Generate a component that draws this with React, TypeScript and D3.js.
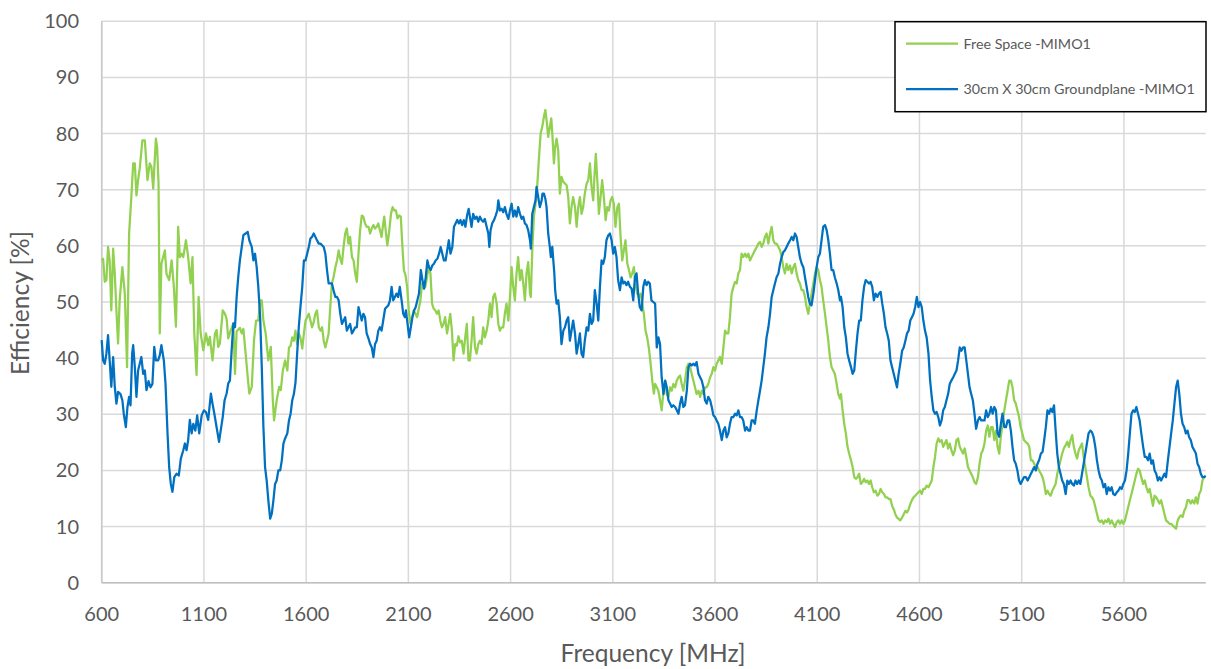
import React from "react";
import * as d3 from "d3";

const xTicks = [600, 1100, 1600, 2100, 2600, 3100, 3600, 4100, 4600, 5100, 5600];
const yTicks = [0, 10, 20, 30, 40, 50, 60, 70, 80, 90, 100];
const seriesNames = ["Free Space -MIMO1", "30cm X 30cm Groundplane -MIMO1"];
const xTitle = "Frequency [MHz]";
const yTitle = "Efficiency [%]";

const freeSpace: [number, number][] = [
  [600,57.4],[607,57.7],[615,53.6],[623,53.9],[631,59.8],[639,57.4],[647,48.5],[656,59.5],[664,55.0],[672,48.5],[680,42.6],[688,50.3],[701,56.2],[713,51.5],[724,38.4],[734,62.2],[745,68.7],[754,74.7],[762,74.7],[770,69.0],[778,71.7],[786,73.8],[799,78.8],[811,78.8],[824,71.7],[835,74.7],[843,74.1],[852,70.2],[865,79.1],[871,77.6],[878,71.1],[884,44.4],[892,56.8],[909,59.2],[917,55.0],[930,53.9],[942,57.4],[953,52.7],[963,45.6],[974,63.4],[982,58.0],[991,58.6],[999,58.0],[1012,61.0],[1023,58.0],[1035,53.3],[1044,58.0],[1053,44.4],[1064,37.0],[1074,50.9],[1084,44.4],[1097,41.4],[1110,44.4],[1121,42.3],[1129,43.8],[1142,39.6],[1154,44.4],[1162,45.0],[1170,42.0],[1178,42.6],[1192,48.5],[1203,47.9],[1211,47.0],[1219,43.5],[1231,45.0],[1244,46.2],[1252,37.2],[1260,44.8],[1276,45.4],[1285,44.4],[1293,45.2],[1304,40.8],[1314,36.7],[1322,33.7],[1334,34.9],[1345,43.2],[1355,46.7],[1366,46.7],[1375,50.3],[1383,50.3],[1391,46.7],[1402,44.4],[1415,39.6],[1427,42.0],[1437,32.5],[1443,28.9],[1456,32.5],[1468,34.9],[1476,34.3],[1486,37.8],[1497,39.6],
  [1508,37.8],[1516,41.9],[1524,42.2],[1532,43.7],[1540,43.1],[1548,44.9],[1556,42.5],[1564,44.4],[1572,43.7],[1581,41.7],[1589,44.4],[1597,46.7],[1605,47.3],[1613,47.9],[1621,46.7],[1629,45.5],[1637,46.4],[1645,47.9],[1653,48.5],[1662,45.5],[1670,44.9],[1678,45.5],[1686,43.1],[1694,41.9],[1702,43.1],[1710,44.4],[1718,49.1],[1726,53.3],[1734,54.4],[1743,56.2],[1751,57.4],[1759,59.2],[1767,57.7],[1775,56.8],[1783,59.8],[1791,62.2],[1799,63.1],[1807,60.4],[1815,61.6],[1824,58.0],[1832,57.4],[1840,55.1],[1848,53.6],[1856,58.6],[1864,62.8],[1872,65.4],[1880,65.2],[1888,64.0],[1896,63.4],[1905,63.4],[1913,62.2],[1921,63.1],[1929,63.7],[1937,63.1],[1945,63.4],[1953,64.0],[1961,62.8],[1969,61.6],[1977,64.0],[1982,65.2],[1989,62.8],[1997,60.1],[2005,62.2],[2015,65.7],[2023,66.9],[2031,66.3],[2039,66.3],[2047,64.9],[2055,65.4],[2063,65.2],[2070,60.4],[2078,55.7],[2086,54.8],[2094,52.7],[2102,48.5],[2110,46.1],[2118,47.3],[2126,48.5],[2135,47.9],[2143,47.3],[2151,48.8],[2159,50.3],[2167,53.3],[2175,52.4],[2183,52.7],[2191,54.4],[2199,56.2],[2208,55.1],[2216,49.7],[2224,48.8],[2232,48.5],[2240,47.9],[2248,48.5],[2256,46.7],[2264,45.5],[2272,46.1],[2280,47.3],[2289,44.4],[2297,46.1],[2305,47.9],[2313,44.9],[2321,39.6],[2329,42.5],[2337,42.2],[2345,43.9],[2353,42.8],[2361,43.1],[2370,40.8],[2378,43.7],[2386,46.1],[2394,39.6],
  [2401,39.6],[2409,43.1],[2417,47.3],[2426,41.9],[2434,40.8],[2442,42.5],[2450,43.1],[2458,42.5],[2466,45.5],[2474,43.7],[2483,44.9],[2491,46.7],[2499,49.7],[2507,47.3],[2515,50.9],[2523,51.5],[2532,49.7],[2540,46.1],[2548,44.9],[2556,45.5],[2564,45.5],[2572,47.9],[2580,49.7],[2589,46.7],[2597,50.9],[2605,56.2],[2613,52.7],[2621,50.3],[2629,55.1],[2637,58.0],[2646,53.9],[2654,55.7],[2662,53.3],[2670,50.3],[2678,55.1],[2686,57.1],[2695,51.5],[2699,50.9],[2706,59.2],[2714,65.2],[2722,67.5],[2730,70.5],[2739,75.8],[2747,80.0],[2755,81.2],[2763,83.0],[2770,84.2],[2776,82.4],[2784,79.4],[2792,81.2],[2799,82.7],[2805,79.4],[2812,74.7],[2818,77.6],[2825,79.1],[2833,77.0],[2841,69.3],[2849,72.3],[2858,71.4],[2866,71.1],[2874,70.8],[2882,68.7],[2890,64.0],[2898,66.9],[2906,68.7],[2915,66.9],[2923,63.4],[2931,66.9],[2939,68.7],[2947,65.7],[2955,66.9],[2963,69.3],[2972,71.1],[2980,71.7],[2988,74.7],[2996,70.5],[3004,68.1],[3012,73.5],[3017,76.4],[3025,71.1],[3032,65.7],[3040,68.7],[3048,71.7],[3056,68.7],[3065,64.6],[3073,66.9],[3081,66.3],[3089,68.1],[3097,68.7],[3105,67.5],[3113,63.4],[3122,66.9],[3130,67.5],[3138,61.6],[3146,57.4],[3154,59.2],[3162,61.0],[3171,56.8],[3179,55.7],[3187,54.4],[3195,55.1],[3203,56.2],[3211,53.3],[3219,51.5],[3228,50.9],[3236,51.5],[3244,49.7],[3252,47.9],[3260,44.9],[3268,43.7],[3276,41.9],[3285,39.0],[3293,36.0],[3301,33.7],
  [3307,35.4],[3315,34.8],[3323,34.2],[3331,32.5],[3339,30.7],[3348,34.2],[3356,36.0],[3364,33.6],[3372,33.1],[3380,34.8],[3388,34.2],[3396,35.4],[3405,34.8],[3413,36.0],[3421,36.6],[3429,36.9],[3437,35.4],[3445,34.2],[3453,36.0],[3462,38.4],[3470,39.0],[3478,38.4],[3486,37.2],[3494,36.0],[3502,34.8],[3510,33.6],[3519,34.2],[3527,33.1],[3535,34.2],[3543,33.6],[3551,34.8],[3559,34.8],[3567,35.4],[3576,36.6],[3584,37.2],[3592,38.4],[3600,37.8],[3608,39.0],[3616,39.6],[3624,40.2],[3633,39.0],[3641,41.9],[3649,44.9],[3657,44.4],[3665,44.4],[3673,47.3],[3681,51.5],[3690,52.7],[3698,53.6],[3706,53.3],[3714,55.1],[3722,55.7],[3730,58.6],[3738,58.0],[3747,58.6],[3755,58.0],[3763,58.6],[3771,57.4],[3779,58.0],[3787,58.6],[3795,59.2],[3804,59.8],[3812,60.4],[3820,60.7],[3828,59.8],[3836,60.4],[3844,61.6],[3852,62.2],[3861,60.4],[3869,62.2],[3877,63.4],[3885,61.0],[3893,60.4],[3901,60.4],[3910,59.8],[3918,59.2],[3926,58.0],[3934,56.2],[3942,55.1],[3950,56.8],[3958,55.7],[3967,56.5],[3975,55.1],[3983,56.2],[3991,56.8],[3999,55.1],[4007,53.9],[4015,53.3],[4024,52.1],[4032,52.1],[4040,50.9],[4048,49.1],[4056,47.9],[4064,49.7],[4072,51.5],[4081,53.3],[4089,55.1],[4097,56.2],[4105,55.7],[4113,53.9],[4121,52.7],[4129,50.3],[4138,47.9],[4146,45.5],[4154,43.1],[4162,40.2],[4170,38.4],[4178,37.8],[4186,37.2],[4195,35.4],[4203,33.6],[4211,32.8],
  [4216,33.6],[4224,30.7],[4232,28.3],[4240,26.6],[4248,24.2],[4256,23.0],[4265,21.8],[4273,20.6],[4281,18.8],[4289,18.5],[4297,18.8],[4305,19.4],[4313,17.6],[4321,17.9],[4329,18.5],[4337,17.9],[4345,18.2],[4353,17.6],[4361,18.2],[4369,17.0],[4377,16.1],[4385,16.4],[4394,15.5],[4402,15.8],[4410,16.7],[4418,16.1],[4426,15.8],[4434,15.2],[4442,15.2],[4450,14.9],[4458,14.9],[4466,13.7],[4474,13.1],[4482,12.2],[4490,11.6],[4498,11.4],[4506,11.1],[4515,11.6],[4523,12.2],[4531,12.8],[4539,12.5],[4547,13.1],[4555,14.0],[4563,14.7],[4571,15.2],[4579,15.5],[4587,15.8],[4595,16.1],[4603,16.4],[4611,15.8],[4619,16.7],[4627,16.7],[4635,17.3],[4644,17.0],[4652,17.6],[4660,18.2],[4668,20.6],[4676,22.4],[4684,24.8],[4692,25.7],[4700,25.1],[4708,25.4],[4716,24.2],[4724,24.8],[4732,25.4],[4740,23.9],[4748,24.8],[4756,23.6],[4765,22.7],[4773,23.6],[4781,25.4],[4789,25.7],[4797,24.2],[4805,23.6],[4813,23.0],[4821,23.9],[4829,22.4],[4837,20.6],[4845,20.0],[4853,19.4],[4861,18.8],[4869,17.9],[4877,17.6],[4886,18.8],[4894,21.2],[4902,23.0],[4910,23.6],[4918,24.8],[4926,27.1],[4934,28.0],[4942,26.0],[4950,27.7],[4958,27.7],[4966,25.4],[4974,27.1],[4982,24.2],[4990,23.0],[4998,26.0],[5006,28.3],[5015,30.7],[5023,32.5],[5031,34.2],[5039,36.0],[5047,36.0],[5055,34.8],[5063,32.5],[5071,31.9],[5079,30.7],[5087,29.5],[5095,27.7],[5103,26.6],[5111,25.4],
  [5121,25.0],[5129,24.8],[5137,24.2],[5145,21.8],[5153,21.8],[5161,21.2],[5169,20.6],[5177,20.6],[5185,20.0],[5194,19.4],[5202,18.8],[5210,17.6],[5218,15.8],[5226,16.4],[5234,15.8],[5242,15.5],[5250,16.4],[5258,17.0],[5266,17.6],[5274,19.4],[5282,20.6],[5290,21.8],[5298,23.0],[5306,23.9],[5315,24.5],[5323,25.1],[5331,24.2],[5339,25.4],[5347,26.3],[5355,24.2],[5363,23.0],[5371,22.1],[5379,23.6],[5387,24.2],[5395,24.8],[5403,22.4],[5411,20.6],[5419,18.8],[5427,17.0],[5436,15.5],[5444,15.2],[5452,14.7],[5460,13.5],[5468,12.3],[5476,11.1],[5484,10.8],[5492,11.1],[5500,10.5],[5508,11.1],[5516,10.8],[5524,11.4],[5532,10.5],[5540,11.1],[5548,10.5],[5556,9.9],[5565,10.8],[5573,11.1],[5581,10.5],[5589,11.1],[5597,10.5],[5605,11.1],[5613,12.3],[5621,13.5],[5629,14.7],[5637,15.8],[5645,17.0],[5653,18.2],[5661,19.4],[5669,20.3],[5677,20.0],[5685,18.8],[5694,17.6],[5702,18.2],[5710,17.0],[5718,16.1],[5726,16.7],[5734,15.2],[5742,13.7],[5750,15.5],[5758,15.2],[5766,14.7],[5774,14.1],[5782,14.7],[5790,13.5],[5798,12.3],[5806,11.1],[5815,10.8],[5823,10.5],[5831,10.5],[5839,10.2],[5847,9.9],[5855,9.6],[5863,11.1],[5871,11.7],[5879,12.0],[5887,11.7],[5895,12.8],[5903,13.4],[5911,14.7],[5919,14.7],[5927,14.1],[5935,14.7],[5944,14.1],[5952,15.2],[5960,14.1],[5968,15.8],[5976,16.4],[5984,18.2],[5992,18.8],[6000,19.0]
];

const groundplane: [number, number][] = [
  [600,43.2],[607,39.6],[615,39.0],[623,40.8],[631,44.1],[639,39.6],[647,34.9],[656,40.2],[664,34.9],[672,31.9],[680,34.0],[692,33.6],[701,32.5],[708,30.1],[718,27.7],[726,31.3],[734,33.1],[741,31.6],[749,40.8],[754,42.3],[762,38.4],[770,33.1],[778,37.8],[786,39.0],[794,40.2],[803,37.2],[811,37.8],[819,34.3],[829,35.9],[839,34.8],[848,35.4],[857,42.0],[865,39.6],[876,39.6],[884,40.5],[892,42.3],[904,39.6],[912,35.5],[922,26.6],[930,20.6],[938,17.6],[946,16.2],[955,18.8],[966,19.4],[977,19.1],[987,22.1],[999,23.6],[1007,24.8],[1015,23.6],[1023,25.4],[1031,29.0],[1040,26.6],[1048,28.3],[1058,27.1],[1067,29.8],[1077,26.6],[1089,29.8],[1100,30.7],[1110,30.4],[1121,29.0],[1134,33.7],[1142,31.9],[1151,30.1],[1162,27.7],[1174,25.1],[1182,27.1],[1192,29.5],[1201,32.5],[1211,33.7],[1219,35.5],[1227,36.0],[1236,41.6],[1244,46.2],[1252,45.5],[1260,50.9],[1268,54.5],[1276,57.4],[1285,59.8],[1293,61.9],[1304,62.2],[1314,62.5],[1322,61.0],[1334,59.8],[1342,57.4],[1350,58.6],[1358,56.2],[1366,52.7],[1375,47.3],[1383,38.4],[1391,27.7],[1399,20.6],[1407,18.2],[1415,14.7],[1424,11.4],[1432,12.3],[1440,14.7],[1448,17.6],[1456,18.2],[1464,20.0],[1473,20.0],[1481,21.8],[1489,24.8],[1497,25.7],
  [1508,26.6],[1516,28.9],[1524,30.1],[1532,32.5],[1540,33.6],[1548,35.7],[1556,40.8],[1564,45.5],[1572,49.1],[1581,52.7],[1589,57.4],[1597,57.4],[1605,58.6],[1613,59.8],[1621,61.3],[1629,61.6],[1637,62.2],[1645,61.6],[1653,61.0],[1662,60.4],[1670,60.4],[1678,60.1],[1686,59.8],[1694,58.6],[1702,55.7],[1710,53.3],[1718,53.3],[1726,53.3],[1734,52.1],[1743,50.9],[1751,50.9],[1759,50.3],[1767,47.9],[1775,46.1],[1783,46.7],[1791,47.3],[1799,44.9],[1807,45.5],[1815,46.1],[1824,44.4],[1832,44.9],[1840,45.5],[1848,45.5],[1856,49.1],[1864,47.9],[1872,46.7],[1880,47.9],[1888,47.3],[1896,44.4],[1905,43.5],[1913,42.5],[1921,41.9],[1929,40.2],[1937,42.5],[1945,43.1],[1953,44.9],[1961,45.5],[1969,44.9],[1977,46.7],[1986,48.8],[1994,49.1],[2002,49.4],[2010,50.3],[2018,52.7],[2026,50.3],[2034,50.9],[2042,51.5],[2050,50.9],[2058,52.7],[2067,50.3],[2075,47.9],[2083,47.3],[2088,48.5],[2096,46.1],[2104,43.7],[2112,45.5],[2120,47.3],[2128,48.5],[2136,49.1],[2144,50.3],[2152,51.5],[2161,55.7],[2169,53.9],[2177,52.4],[2185,54.4],[2193,57.4],[2201,56.2],[2209,55.7],[2217,56.5],[2225,56.8],[2233,57.4],[2242,57.7],[2250,58.6],[2258,59.8],[2266,58.6],[2274,57.4],[2282,57.4],[2290,59.2],[2298,61.0],[2306,58.6],[2315,59.8],[2323,63.4],[2331,64.0],[2339,64.6],[2347,64.0],[2355,64.6],[2363,63.7],[2371,64.6],[2379,63.4],[2387,65.4],[2395,66.6],
  [2401,65.2],[2409,63.4],[2417,65.7],[2426,64.8],[2434,65.2],[2442,64.3],[2450,65.2],[2458,64.6],[2466,64.3],[2474,64.8],[2483,63.4],[2491,62.2],[2496,59.8],[2502,62.8],[2510,64.0],[2519,64.6],[2527,65.4],[2535,66.3],[2540,68.1],[2548,66.3],[2556,66.6],[2564,66.0],[2572,66.9],[2580,65.7],[2589,64.8],[2597,66.3],[2605,67.5],[2613,65.2],[2621,66.3],[2629,65.2],[2637,66.9],[2646,65.7],[2654,64.8],[2662,65.2],[2670,64.0],[2678,63.7],[2686,62.8],[2695,61.0],[2699,59.5],[2706,65.7],[2714,66.9],[2722,68.1],[2727,70.5],[2735,68.7],[2743,66.9],[2752,68.1],[2756,69.3],[2763,69.3],[2770,68.4],[2776,66.9],[2784,62.2],[2792,59.8],[2797,58.0],[2804,59.8],[2809,57.4],[2814,55.1],[2818,52.1],[2825,49.7],[2833,50.3],[2841,47.3],[2849,42.5],[2858,44.9],[2866,45.5],[2874,46.7],[2882,47.3],[2890,43.1],[2898,44.9],[2906,46.7],[2915,44.4],[2923,40.8],[2931,42.5],[2939,44.4],[2947,40.8],[2955,40.2],[2963,43.1],[2972,45.5],[2980,44.9],[2988,47.9],[2996,46.1],[3004,46.7],[3012,52.1],[3021,49.7],[3029,46.7],[3037,52.7],[3045,57.4],[3053,56.8],[3061,58.0],[3069,61.0],[3078,61.9],[3086,62.2],[3094,61.0],[3102,58.6],[3110,59.8],[3118,58.0],[3126,53.9],[3135,52.1],[3143,54.4],[3151,53.3],[3159,53.6],[3167,53.0],[3175,53.6],[3184,52.7],[3192,52.4],[3200,50.3],[3208,54.4],[3216,55.1],[3224,51.5],[3232,49.1],[3241,48.5],[3249,52.7],[3257,53.9],[3265,53.0],[3273,53.6],[3281,53.3],[3289,50.3],[3298,50.0],
  [3307,49.7],[3315,41.9],[3323,43.7],[3331,42.5],[3339,36.6],[3348,33.6],[3356,36.0],[3364,34.8],[3372,32.5],[3380,31.9],[3388,31.3],[3396,31.6],[3405,31.3],[3413,30.7],[3421,30.1],[3429,31.9],[3437,33.1],[3445,31.3],[3453,31.6],[3462,34.2],[3470,38.4],[3478,39.0],[3486,38.7],[3494,39.0],[3502,38.7],[3510,39.3],[3519,37.2],[3527,36.6],[3535,36.0],[3543,34.8],[3551,32.5],[3559,31.9],[3567,33.1],[3576,32.5],[3584,31.3],[3592,29.8],[3600,29.5],[3608,28.9],[3616,28.3],[3624,27.1],[3633,25.4],[3641,27.1],[3649,27.7],[3657,25.9],[3665,26.6],[3673,28.3],[3681,29.5],[3690,29.5],[3698,30.1],[3706,29.8],[3714,30.7],[3722,29.5],[3730,29.5],[3738,28.9],[3747,27.1],[3755,27.7],[3763,27.1],[3771,27.1],[3779,28.9],[3787,28.9],[3795,28.3],[3804,30.7],[3812,32.5],[3820,34.2],[3828,36.0],[3836,38.4],[3844,40.8],[3852,43.7],[3861,45.5],[3869,47.9],[3877,50.9],[3885,52.1],[3893,53.3],[3901,54.4],[3910,55.1],[3918,56.8],[3926,58.0],[3934,58.9],[3942,59.2],[3950,59.8],[3958,60.4],[3967,61.0],[3975,61.6],[3983,61.0],[3991,62.2],[3999,61.6],[4007,59.8],[4015,58.0],[4024,56.8],[4032,56.2],[4040,54.4],[4048,52.7],[4056,50.9],[4064,49.7],[4072,49.4],[4081,51.5],[4089,53.9],[4097,56.2],[4105,58.0],[4113,58.6],[4121,61.0],[4129,63.4],[4138,63.7],[4146,62.8],[4154,61.0],[4162,58.6],[4170,55.7],[4178,55.7],[4186,54.4],[4195,53.3],[4203,52.1],[4211,50.3],
  [4216,50.9],[4224,49.1],[4232,45.5],[4240,43.7],[4248,40.8],[4256,39.6],[4265,38.4],[4273,37.2],[4281,37.8],[4289,41.3],[4297,44.4],[4305,46.7],[4313,46.7],[4321,50.3],[4329,52.7],[4337,53.9],[4345,53.6],[4353,53.3],[4361,53.6],[4369,52.7],[4377,50.3],[4385,51.5],[4394,50.9],[4402,51.5],[4410,51.8],[4418,49.7],[4426,47.9],[4434,45.5],[4442,44.4],[4450,43.1],[4458,39.6],[4466,38.4],[4474,37.2],[4482,36.0],[4490,34.8],[4498,37.2],[4506,39.0],[4515,41.3],[4523,41.9],[4531,43.1],[4539,44.4],[4547,44.9],[4555,46.7],[4563,47.3],[4571,47.9],[4579,49.1],[4587,50.9],[4595,49.1],[4603,50.0],[4611,49.1],[4619,46.7],[4627,44.9],[4635,43.7],[4644,40.8],[4652,36.0],[4660,33.1],[4668,30.7],[4676,30.1],[4684,30.4],[4692,29.5],[4700,28.0],[4708,28.9],[4716,30.7],[4724,31.3],[4732,32.5],[4740,33.6],[4748,35.4],[4756,36.0],[4765,36.6],[4773,37.2],[4781,37.8],[4789,39.6],[4797,41.9],[4805,41.3],[4813,41.9],[4821,41.9],[4829,39.6],[4837,37.2],[4845,34.8],[4853,33.6],[4861,32.5],[4869,30.1],[4877,27.4],[4886,28.9],[4894,29.5],[4902,28.9],[4910,28.9],[4918,28.9],[4926,30.7],[4934,29.5],[4942,30.1],[4950,31.3],[4958,30.1],[4966,31.3],[4974,30.7],[4982,26.6],[4990,26.0],[4998,28.3],[5006,30.1],[5015,27.7],[5023,27.7],[5031,28.9],[5039,28.9],[5047,27.1],[5055,24.2],[5063,21.8],[5071,21.2],[5079,20.0],[5087,18.2],[5095,17.6],[5103,18.2],[5111,18.8],
  [5121,18.8],[5129,18.2],[5137,18.8],[5145,19.4],[5153,20.0],[5161,20.6],[5169,20.0],[5177,21.2],[5185,21.8],[5194,23.0],[5202,23.3],[5210,25.4],[5218,27.7],[5226,30.7],[5234,30.1],[5242,31.0],[5250,30.4],[5258,31.6],[5266,27.1],[5274,23.0],[5282,20.6],[5290,19.4],[5298,18.2],[5306,17.6],[5315,15.8],[5323,18.2],[5331,17.6],[5339,18.2],[5347,17.6],[5355,17.3],[5363,18.2],[5371,17.6],[5379,18.2],[5387,17.6],[5395,19.4],[5403,21.2],[5411,23.0],[5419,24.8],[5427,26.6],[5436,27.1],[5444,26.8],[5452,25.9],[5460,24.2],[5468,21.8],[5476,20.0],[5484,18.8],[5492,18.2],[5500,17.0],[5508,17.6],[5516,15.8],[5524,17.0],[5532,16.4],[5540,17.0],[5548,15.8],[5556,15.6],[5565,16.1],[5573,16.4],[5581,17.0],[5589,16.7],[5597,17.6],[5605,18.2],[5613,20.0],[5621,23.0],[5629,26.6],[5637,30.1],[5645,30.7],[5653,30.4],[5661,31.3],[5669,30.1],[5677,28.9],[5685,26.6],[5694,24.2],[5702,22.4],[5710,22.4],[5718,21.8],[5726,23.0],[5734,21.2],[5742,21.8],[5750,20.0],[5758,19.4],[5766,18.2],[5774,18.8],[5782,18.2],[5790,18.8],[5798,19.4],[5806,18.8],[5815,21.8],[5823,24.2],[5831,26.6],[5839,28.9],[5847,31.9],[5855,34.8],[5863,36.0],[5871,33.6],[5879,30.1],[5887,28.3],[5895,27.7],[5903,26.6],[5911,27.1],[5919,25.9],[5927,25.4],[5935,24.2],[5944,23.6],[5952,23.0],[5960,21.2],[5968,20.6],[5976,19.4],[5984,18.8],[5992,18.8],[6000,19.0]
];

const W = 1211;
const H = 669;
const plot = { left: 101.7, right: 1205.7, top: 21.3, bottom: 582.7 };
const textColor = "#595959";
const font = "Lato, 'Open Sans', sans-serif";
const greenColor = "#92D050";
const blueColor = "#0070C0";

export default function App() {
  const x = d3.scaleLinear().domain([600, 6000]).range([plot.left, plot.right]);
  const y = d3.scaleLinear().domain([0, 100]).range([plot.bottom, plot.top]);
  const line = d3
    .line<[number, number]>()
    .x((d) => x(d[0]))
    .y((d) => y(d[1]));

  const legend = { x: 895, y: 21.7, w: 311, h: 90 };

  return (
    <svg
      width={W}
      height={H}
      style={{ position: "absolute", left: 0, top: 0, background: "#fff" }}
      fontFamily={font}
    >
      <rect x={0} y={0} width={W} height={H} fill="#fff" />
      {yTicks.map((t) => (
        <line
          key={"gy" + t}
          x1={plot.left}
          x2={plot.right}
          y1={y(t)}
          y2={y(t)}
          stroke="#D9D9D9"
          strokeWidth={1.5}
        />
      ))}
      {xTicks.map((t) => (
        <line
          key={"gx" + t}
          x1={x(t)}
          x2={x(t)}
          y1={plot.top}
          y2={plot.bottom}
          stroke="#D9D9D9"
          strokeWidth={1.5}
        />
      ))}
      <line x1={plot.left} x2={plot.right} y1={y(0)} y2={y(0)} stroke="#BFBFBF" strokeWidth={1.5} />
      <line x1={plot.left} x2={plot.left} y1={plot.top} y2={plot.bottom} stroke="#C8C8C8" strokeWidth={1.5} />

      {yTicks.map((t) => (
        <text
          key={"ty" + t}
          x={79}
          y={y(t)}
          dy="0.35em"
          textAnchor="end"
          fontSize={20}
          fill={textColor}
        >
          {t}
        </text>
      ))}
      {xTicks.map((t) => (
        <text
          key={"tx" + t}
          x={x(t)}
          y={614}
          dy="0.35em"
          textAnchor="middle"
          fontSize={20}
          fill={textColor}
        >
          {t}
        </text>
      ))}

      <path d={line(freeSpace) || ""} fill="none" stroke={greenColor} strokeWidth={2.25} strokeLinejoin="round" />
      <path d={line(groundplane) || ""} fill="none" stroke={blueColor} strokeWidth={2.25} strokeLinejoin="round" />

      <text x={653} y={653} dy="0.35em" textAnchor="middle" fontSize={24.5} fill={textColor}>
        {xTitle}
      </text>
      <text
        transform={`translate(20,303) rotate(-90)`}
        dy="0.35em"
        textAnchor="middle"
        fontSize={24.5}
        fill={textColor}
      >
        {yTitle}
      </text>

      <rect x={legend.x} y={legend.y} width={legend.w} height={legend.h} fill="#fff" stroke="#000" strokeWidth={1.5} />
      {seriesNames.map((name, i) => {
        const ly = i === 0 ? 43.5 : 89;
        return (
          <g key={name}>
            <line x1={906} x2={958} y1={ly} y2={ly} stroke={i === 0 ? greenColor : blueColor} strokeWidth={2.25} />
            <text x={963.5} y={ly} dy="0.35em" fontSize={14.3} fill={textColor}>
              {name}
            </text>
          </g>
        );
      })}
    </svg>
  );
}
